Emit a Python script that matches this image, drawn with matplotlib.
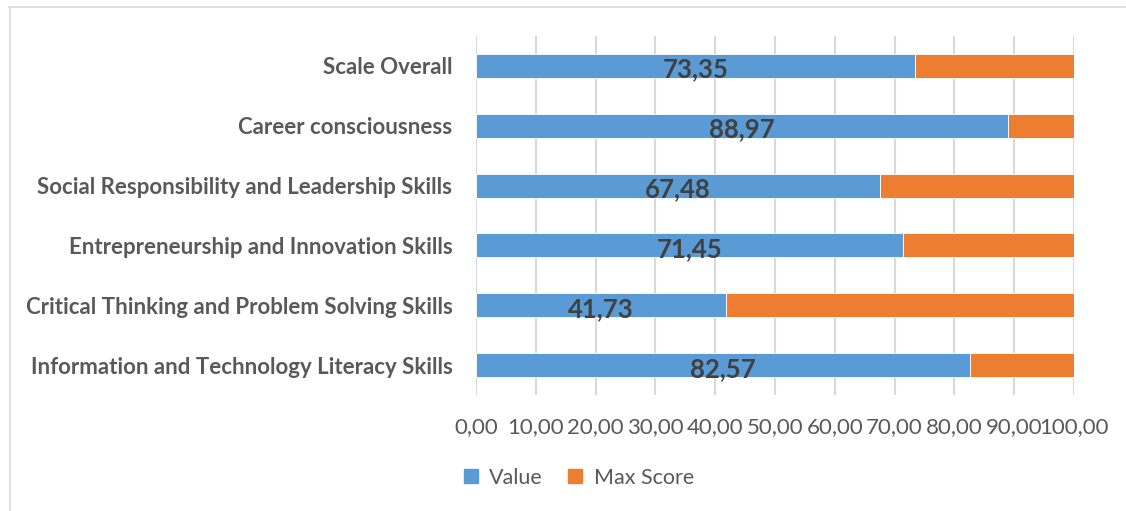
import matplotlib
matplotlib.use("Agg")
import matplotlib.pyplot as plt
from matplotlib.lines import Line2D
from matplotlib.ticker import FuncFormatter, MultipleLocator

categories = [
    "Information and Technology Literacy Skills",
    "Critical Thinking and Problem Solving Skills",
    "Entrepreneurship and Innovation Skills",
    "Social Responsibility and Leadership Skills",
    "Career consciousness",
    "Scale Overall",
]
values = [82.57, 41.73, 71.45, 67.48, 88.97, 73.35]
max_score = 100.0
remainder = [max_score - v for v in values]

blue = "#5B9BD5"
orange = "#ED7D31"
grey_txt = "#595959"

plt.rcParams["font.family"] = ["Lato", "DejaVu Sans"]

fig = plt.figure(figsize=(11.26, 5.11), dpi=100)
ax = fig.add_axes([476 / 1126, 1 - 395 / 511, (1074 - 476) / 1126, (395 - 36) / 511])

ypos = list(range(len(categories)))
ax.barh(ypos, values, height=0.4, color=blue, edgecolor="white", linewidth=0.6, zorder=3, label="Value")
ax.barh(ypos, remainder, left=values, height=0.4, color=orange, edgecolor="white", linewidth=0.6,
        zorder=3, label="Max Score")

for y, v in zip(ypos, values):
    ax.text(v / 2, y - 0.06, f"{v:.2f}".replace(".", ","), ha="center", va="center",
            fontsize=18.5, fontweight="bold", color="#404040", zorder=4)

ax.set_xlim(0, 100)
ax.set_ylim(-0.5, len(categories) - 0.5)
ax.xaxis.set_major_locator(MultipleLocator(10))
ax.xaxis.set_major_formatter(FuncFormatter(lambda v, p: f"{v:.2f}".replace(".", ",")))
ax.set_yticks(ypos)
ax.set_yticklabels(categories, fontsize=16, fontweight="bold", color=grey_txt)
ax.tick_params(axis="y", length=0, pad=17)
ax.tick_params(axis="x", length=0, pad=16, labelsize=16, labelcolor=grey_txt)
ax.grid(axis="x", color="#D9D9D9", linewidth=1.5, zorder=0)
for s in ax.spines.values():
    s.set_visible(False)

handles = [Line2D([], [], marker="s", linestyle="none", markersize=10, color=blue),
           Line2D([], [], marker="s", linestyle="none", markersize=10, color=orange)]
fig.legend(handles, ["Value", "Max Score"], loc="center", bbox_to_anchor=(577 / 1126, 1 - 478 / 511),
           ncol=2, frameon=False, fontsize=15.5, labelcolor=grey_txt, handlelength=1.0,
           handletextpad=0.35, columnspacing=1.0)

# chart frame (top and left edges only show)
fig.add_artist(Line2D([9 / 1126, 1125 / 1126], [1 - 7 / 511, 1 - 7 / 511], color="#D9D9D9", linewidth=1.2))
fig.add_artist(Line2D([9.5 / 1126, 9.5 / 1126], [0, 1 - 7 / 511], color="#D9D9D9", linewidth=1.2))

fig.savefig("out.png", dpi=100)
